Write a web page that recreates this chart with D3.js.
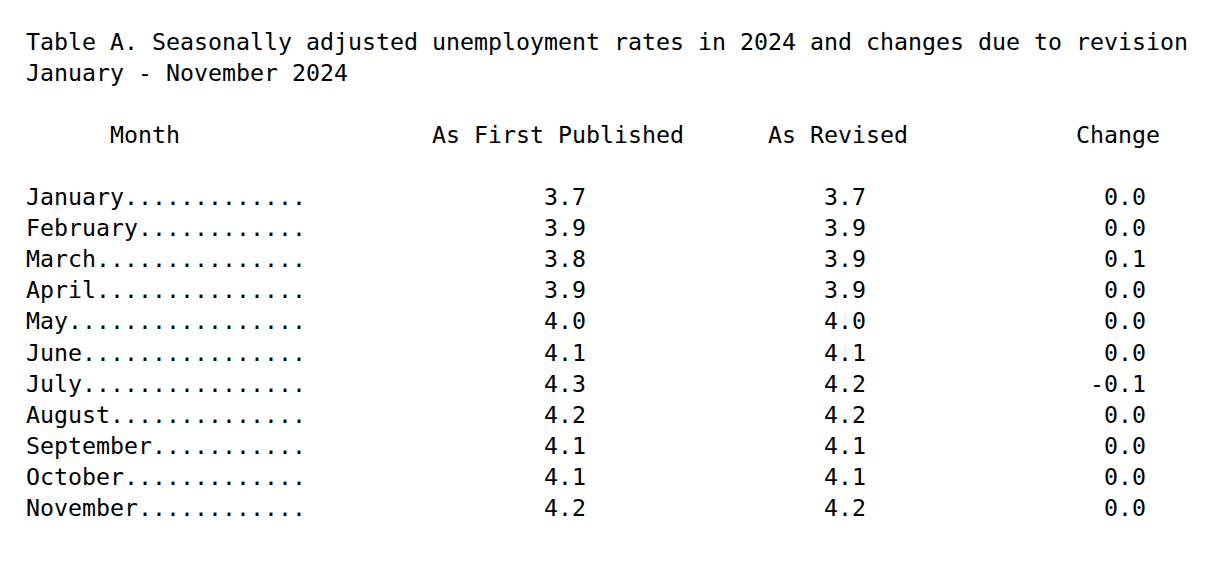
<!DOCTYPE html>
<html>
<head>
<meta charset="utf-8">
<script src="https://cdn.jsdelivr.net/npm/d3@7"></script>
<style>
  html, body { margin: 0; padding: 0; background: #fff; }
  text { font-family: "DejaVu Sans Mono", "Liberation Mono", monospace; fill: #000; }
</style>
</head>
<body>
<div id="table"></div>
<script>
'use strict';

var title = 'Table A. Seasonally adjusted unemployment rates in 2024 and changes due to revision';
var subtitle = 'January - November 2024';
var headers = ['Month', 'As First Published', 'As Revised', 'Change'];
var months = ['January', 'February', 'March', 'April', 'May', 'June',
  'July', 'August', 'September', 'October', 'November'];
var firstPublished = [3.7, 3.9, 3.8, 3.9, 4.0, 4.1, 4.3, 4.2, 4.1, 4.1, 4.2];
var revised = [3.7, 3.9, 3.9, 3.9, 4.0, 4.1, 4.2, 4.2, 4.1, 4.1, 4.2];
var change = [0.0, 0.0, 0.1, 0.0, 0.0, 0.0, -0.1, 0.0, 0.0, 0.0, 0.0];

var width = 1224,
  height = 578,
  charW = 14,
  fontSize = 23.25;

// character column -> pixel
var col = d3.scaleLinear().domain([0, 1]).range([26, 26 + charW]);
// data row index -> baseline
var row = d3.scaleLinear().domain([0, months.length - 1]).range([205, 516]);

var svg = d3.select('#table').append('svg')
  .attr('width', width)
  .attr('height', height)
  .style('display', 'block')
  .style('background', '#fff');

var g = svg.append('g')
  .style('font-size', fontSize + 'px')
  .attr('xml:space', 'preserve');

function put(str, c, y) {
  return g.append('text')
    .attr('x', col(c))
    .attr('y', y)
    .attr('textLength', str.length * charW)
    .attr('lengthAdjust', 'spacing')
    .text(str);
}

put(title, 0, 50);
put(subtitle, 0, 81);

var headerCols = [6, 29, 53, 75];
headers.forEach(function(h, i) { put(h, headerCols[i], 143); });

var rows = months.map(function(m, i) {
  return {
    label: (m + '....................').slice(0, 20),
    first: firstPublished[i].toFixed(1),
    rev: revised[i].toFixed(1),
    chg: change[i].toFixed(1)
  };
});

rows.forEach(function(d, i) {
  var y = row(i);
  put(d.label, 0, y);
  put(d.first, 37, y);
  put(d.rev, 57, y);
  put(d.chg, 80 - d.chg.length, y); // right aligned
});
</script>
</body>
</html>
